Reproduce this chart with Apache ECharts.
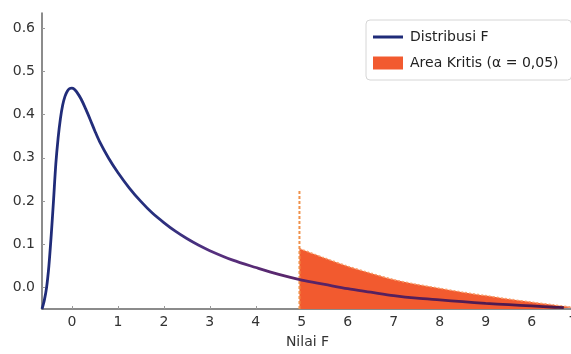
<!DOCTYPE html>
<html><head><meta charset="utf-8">
<script src="https://cdn.jsdelivr.net/npm/echarts@6/dist/echarts.min.js"></script>
<style>html,body{margin:0;padding:0;background:#fff}#c{width:571px;height:354px}</style>
</head><body><div id="c"></div>
<script>
// Distribusi F curve
const curveX = [-0.65,-0.60,-0.55,-0.50,-0.45,-0.40,-0.35,-0.30,-0.25,-0.20,-0.15,-0.10,-0.05,0.00,0.05,0.10,0.20,0.30,0.40,0.50,0.60,0.80,1.00,1.25,1.50,1.75,2.00,2.25,2.50,2.75,3.00,3.50,4.00,4.50,5.00,5.50,6.00,6.50,7.00,7.50,8.00,8.50,9.00,9.50,10.00,10.50,10.70];
const curveY = [-0.050,-0.030,0.000,0.050,0.120,0.200,0.285,0.345,0.390,0.422,0.442,0.454,0.460,0.461,0.459,0.453,0.436,0.413,0.388,0.362,0.338,0.299,0.266,0.230,0.199,0.172,0.150,0.130,0.113,0.098,0.085,0.063,0.046,0.030,0.017,0.007,-0.003,-0.011,-0.019,-0.025,-0.029,-0.033,-0.037,-0.040,-0.043,-0.046,-0.047];
// Area Kritis top edge
const areaX = [4.95,5.50,6.00,6.50,7.00,7.50,8.00,8.50,9.00,9.50,10.00,10.50,10.90];
const areaY = [0.090,0.068,0.049,0.033,0.018,0.007,-0.002,-0.011,-0.019,-0.027,-0.034,-0.041,-0.046];
// critical line
const critX = 4.95;
const critTop = 0.225;
// ticks
const xTickValues = [0,1,2,3,4,5,6,7,8,9,10,10.9];
const xTickLabels = ['0','1','2','3','4','5','6','7','8','9','6','7'];
const yTickValues = [0,0.1,0.2,0.3,0.4,0.5,0.6];
const yTickLabels = ['0.0','0.1','0.2','0.3','0.4','0.5','0.6'];

const zip = (a,b)=>a.map((v,i)=>[v,b[i]]);
const chart = echarts.init(document.getElementById('c'), null, {renderer:'canvas'});
const font = 'DejaVu Sans';
chart.setOption({
  animation:false,
  backgroundColor:'#fff',
  grid:{left:42, width:531, top:13, bottom:45, containLabel:false, outerBoundsMode:'none'},
  xAxis:{
    type:'value', min:-0.65, max:10.9,
    name:'Nilai F', nameLocation:'middle', nameGap:26,
    nameTextStyle:{fontFamily:font, fontSize:14, color:'#333'},
    axisLine:{show:true, onZero:false, lineStyle:{color:'#666', width:1.5}},
    axisTick:{show:true, inside:true, length:3, customValues:xTickValues, lineStyle:{color:'#999'}},
    axisLabel:{customValues:xTickValues, margin:6, fontFamily:font, fontSize:14, color:'#333',
      formatter:(v)=>{const i=xTickValues.indexOf(v); return i>=0?xTickLabels[i]:'';}},
    splitLine:{show:false}
  },
  yAxis:{
    type:'value', min:-0.05, max:0.635,
    axisLine:{show:true, onZero:false, lineStyle:{color:'#666', width:1.5}},
    axisTick:{show:true, inside:true, length:3, customValues:yTickValues, lineStyle:{color:'#999'}},
    axisLabel:{customValues:yTickValues, margin:7, fontFamily:font, fontSize:14, color:'#333',
      formatter:(v)=>{const i=yTickValues.findIndex(t=>Math.abs(t-v)<1e-9); return i>=0?yTickLabels[i]:'';}},
    splitLine:{show:false}
  },
  legend:{
    orient:'vertical', left:366, top:20,
    padding:[10,13,10,7], itemGap:12, itemWidth:30, itemHeight:13,
    borderColor:'#d6d6d6', borderWidth:1, borderRadius:4, backgroundColor:'#fff',
    textStyle:{fontFamily:font, fontSize:14, color:'#222', padding:[0,0,0,2]},
    data:[
      {name:'Distribusi F', icon:'path://M0,5 L30,5 L30,8 L0,8 Z', itemStyle:{color:'#1f2b78'}},
      {name:'Area Kritis (α = 0,05)', icon:'rect', itemStyle:{color:'#f25a2f'}}
    ]
  },
  series:[
    {
      name:'Area Kritis (α = 0,05)', type:'line', data:zip(areaX,areaY),
      showSymbol:false, symbol:'none', smooth:0.3,
      lineStyle:{color:'#f7a06a', width:1.5, type:[2,2]},
      itemStyle:{color:'#f25a2f'},
      areaStyle:{color:'#f25a2f', opacity:1, origin:'start'},
      z:2
    },
    {
      name:'crit', type:'line', data:[[critX,-0.05],[critX,critTop]],
      showSymbol:false, symbol:'none',
      lineStyle:{color:'#f0914a', width:2, type:[3,2]},
      z:3, silent:true
    },
    {
      name:'Distribusi F', type:'line', data:zip(curveX,curveY),
      showSymbol:false, symbol:'none', smooth:0.3,
      itemStyle:{color:'#1f2b78'},
      lineStyle:{width:2.8, color:new echarts.graphic.LinearGradient(0,0,1,0,[
        {offset:0, color:'#1f2b78'},{offset:0.22, color:'#27307e'},
        {offset:0.33, color:'#56307f'},{offset:0.5, color:'#5a2468'},
        {offset:1, color:'#4b1848'}])},
      z:4
    }
  ]
});
</script></body></html>
